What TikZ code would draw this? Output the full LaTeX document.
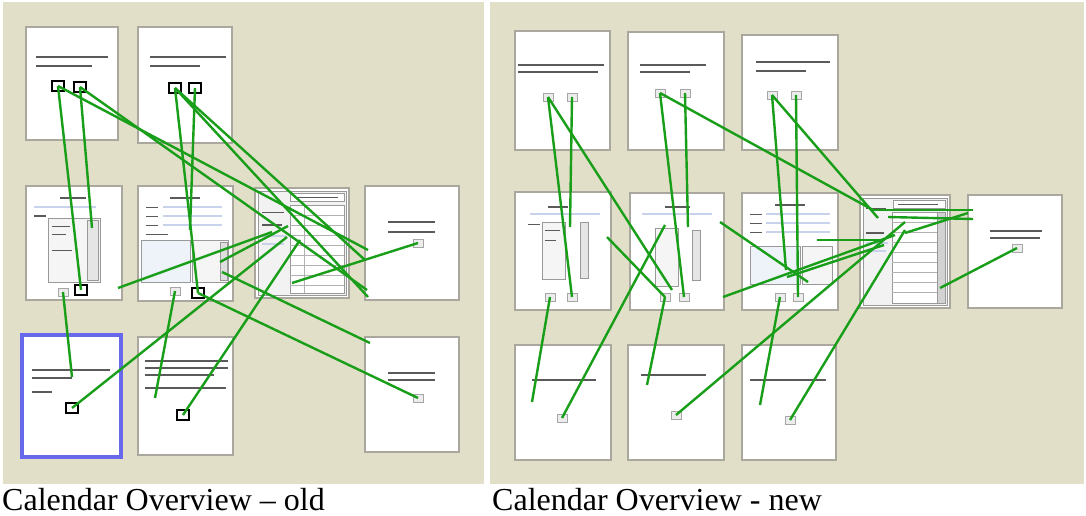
\documentclass[tikz,border=0pt]{standalone}
\usepackage{fontspec}
\setmainfont{Liberation Serif}
\definecolor{beige}{RGB}{226,223,200}
\definecolor{pgborder}{RGB}{170,168,158}
\definecolor{lgreen}{RGB}{24,158,24}
\definecolor{selblue}{RGB}{104,104,236}
\definecolor{txtgray}{RGB}{90,90,90}
\definecolor{fieldblue}{RGB}{200,210,235}
\newcommand\pg[6][]{\node[pg,#1,minimum width={#4-#2},minimum height={#5-#3}] (#6) at ({(#2+#4)/2},{(#3+#5)/2}) {};}
\begin{document}
\begin{tikzpicture}[x=1pt,y=-1pt,
  pg/.style={draw=pgborder,fill=white,line width=2.6pt,inner sep=0pt},
  sel/.style={draw=selblue,line width=4pt},
  btn/.style={draw=black,line width=2.2pt,minimum width=12pt,minimum height=10pt,inner sep=0pt},
  fbtn/.style={draw=gray!70,fill=gray!15,line width=0.8pt,minimum width=10pt,minimum height=8pt,inner sep=0pt},
  tx/.style={draw=txtgray,line width=1.3pt},
  ltx/.style={draw=fieldblue,line width=1.5pt},
  box/.style={draw=gray!80,line width=1pt},
  gl/.style={draw=lgreen,line width=2.4pt},
  captxt/.style={font=\fontsize{32}{32}\selectfont,anchor=base west,inner sep=0pt}]
\useasboundingbox (0,0) rectangle (1086,516);
\fill[white] (0,0) rectangle (1086,516);
% panels
\fill[beige] (3,2) rectangle (484,484);
\fill[beige] (490,2) rectangle (1084,484);
\node[captxt] (capold) at (2,510) {Calendar Overview – old};
\node[captxt] (capnew) at (492,510) {Calendar Overview - new};

% ---------------- OLD ----------------
\pg{26}{27}{118}{140}{p1}
\pg{138}{27}{232}{143}{p2}
\pg{26}{186}{122}{300}{p3}
\pg{138}{186}{233}{301}{p4}
\pg{255}{188}{349}{298}{p5}
\pg{365}{186}{459}{300}{p6}
\pg[sel]{22}{335}{121}{457}{p7}
\pg{138}{337}{233}{455}{p8}
\pg{365}{337}{459}{452}{p9}

% page contents (illegible text drawn as bars)
\draw[tx] (36,57) -- (108,57); \draw[tx] (36,66) -- (92,66);
\draw[tx] (150,57) -- (226,57); \draw[tx] (150,66) -- (200,66);
% p3
\draw[tx] (60,198) -- (86,198);
\draw[ltx] (34,207) -- (96,207); \draw[tx] (34,216) -- (46,216);
\draw[box,fill=gray!8] (48,218) rectangle (100,282);
\draw[box,fill=gray!20] (87,220) rectangle (98,280);
\draw[tx,line width=1pt] (52,226) -- (70,226); \draw[tx,line width=1pt] (52,234) -- (66,234);
\draw[tx,line width=1pt] (52,250) -- (72,250);
% p4
\draw[tx] (170,198) -- (200,198);
\foreach \yy in {207,216,225} {\draw[tx,line width=1pt] (146,\yy) -- (158,\yy); \draw[ltx] (163,\yy) -- (222,\yy);}
\draw[tx,line width=1pt] (146,234) -- (168,234);
\draw[box,fill=fieldblue!30] (141,240) rectangle (190,282);
\draw[box,fill=gray!8] (192,240) rectangle (228,282);
\draw[box,fill=gray!25] (220,242) rectangle (227,280);
% p5 calendar
\draw[box,fill=gray!10] (258,191) rectangle (346,295);
\draw[box,fill=white] (290,193) rectangle (344,201);
\draw[tx,line width=1pt] (296,197) -- (338,197);
\draw[box,fill=white] (290,205) rectangle (344,293);
\foreach \yy in {215,225,235,245,255,265,275,285} {\draw[gray!60,line width=0.8pt] (290,\yy) -- (344,\yy);}
\draw[gray!60,line width=0.8pt] (304,205) -- (304,293);
\draw[tx,line width=1pt] (262,212) -- (284,212); \draw[tx] (262,225) -- (282,225);
\draw[ltx] (262,236) -- (286,236); \draw[ltx] (262,244) -- (284,244);
% p6
\draw[tx] (388,222) -- (435,222); \draw[tx] (388,232) -- (435,232);
\node[fbtn] (b6) at (418,243) {};
% p7
\draw[tx] (32,370) -- (110,370); \draw[tx] (32,378) -- (72,378); \draw[tx] (32,392) -- (52,392);
% p8
\draw[tx] (145,361) -- (228,361); \draw[tx] (145,368) -- (228,368); \draw[tx] (145,375) -- (214,375);
\draw[tx] (145,388) -- (226,388);
% p9
\draw[tx] (388,373) -- (435,373); \draw[tx] (388,380) -- (435,380);
\node[fbtn] (b9) at (418,398) {};
\node[fbtn] (b3f) at (63,292) {};
\node[fbtn] (b4f) at (175,291) {};

% buttons
\node[btn] (bA1) at (58,86) {};
\node[btn] (bA2) at (80,87) {};
\node[btn] (bB1) at (175,88) {};
\node[btn] (bB2) at (195,88) {};
\node[btn] (bC) at (81,290) {};
\node[btn] (bD) at (198,293) {};
\node[btn] (bG) at (72,408) {};
\node[btn] (bH) at (183,415) {};

% old connectors
\coordinate (o1) at (368,250); \coordinate (o2) at (367,290);
\coordinate (o3) at (92,228);
\coordinate (o5) at (190,230); \coordinate (o6) at (365,260);
\coordinate (o7) at (368,297); \coordinate (o8s) at (118,288);
\coordinate (o8e) at (272,232); \coordinate (o9) at (287,237);
\coordinate (o10) at (72,377); \coordinate (o11) at (155,398);
\coordinate (o12) at (300,240); \coordinate (o13s) at (222,272);
\coordinate (o13e) at (370,343); \coordinate (o15) at (292,283);
\coordinate (o16s) at (220,262); \coordinate (o16e) at (288,226);
\draw[gl] (bA1.center) -- (o1);
\draw[gl] (bA2.center) -- (o2);
\draw[gl] (bA1.center) -- (bC.center);
\draw[gl] (bA2.center) -- (o3);
\draw[gl] (bB1.center) -- (bD.center);
\draw[gl] (bB2.center) -- (o5);
\draw[gl] (bB1.center) -- (o6);
\draw[gl] (bB1.center) -- (o7);
\draw[gl] (o8s) -- (o8e);
\draw[gl] (bG.center) -- (o9);
\draw[gl] (b3f.center) -- (o10);
\draw[gl] (b4f.center) -- (o11);
\draw[gl] (bH.center) -- (o12);
\draw[gl] (o13s) -- (o13e);
\draw[gl] (bD.center) -- (b9.center);
\draw[gl] (b6.center) -- (o15);
\draw[gl] (o16s) -- (o16e);

% ---------------- NEW ----------------
\pg{515}{31}{610}{150}{r1}
\pg{628}{32}{724}{150}{r2}
\pg{742}{35}{838}{150}{r3}
\pg{515}{192}{611}{310}{r4}
\pg{630}{193}{724}{310}{r5}
\pg{742}{193}{838}{310}{r6}
\pg{860}{195}{950}{308}{r7}
\pg{968}{195}{1062}{308}{r8}
\pg{515}{345}{611}{460}{r9}
\pg{628}{345}{724}{460}{r10}
\pg{742}{345}{836}{460}{r11}

\draw[tx] (518,65) -- (604,65); \draw[tx] (518,72) -- (598,72);
\draw[tx] (640,65) -- (706,65); \draw[tx] (640,72) -- (690,72);
\draw[tx] (756,62) -- (830,62); \draw[tx] (756,71) -- (806,71);
% r4
\draw[tx] (548,207) -- (568,207); \draw[ltx] (530,214) -- (600,214); \draw[tx,line width=1pt] (528,224) -- (540,224);
\draw[box,fill=gray!8] (542,222) rectangle (565,279);
\draw[box,fill=gray!20] (580,222) rectangle (588,278);
\draw[tx,line width=1pt] (545,230) -- (560,230); \draw[tx,line width=1pt] (545,240) -- (556,240);
% r5
\draw[tx] (665,207) -- (690,207); \draw[ltx] (642,214) -- (712,214);
\draw[box,fill=gray!8] (655,228) rectangle (678,286);
\draw[box,fill=gray!20] (692,230) rectangle (700,280);
% r6
\draw[tx] (775,205) -- (805,205);
\foreach \yy in {214,223,232} {\draw[tx,line width=1pt] (750,\yy) -- (762,\yy); \draw[ltx] (766,\yy) -- (830,\yy);}
\draw[box,fill=fieldblue!30] (750,246) rectangle (800,284);
\draw[box,fill=gray!8] (802,246) rectangle (832,284);
% r7 calendar
\draw[box,fill=gray!10] (863,198) rectangle (947,305);
\draw[box,fill=white] (893,200) rectangle (945,208);
\draw[tx,line width=1pt] (898,204) -- (938,204);
\draw[box,fill=white] (892,212) rectangle (945,303);
\foreach \yy in {222,232,242,252,262,272,282,292} {\draw[gray!60,line width=0.8pt] (892,\yy) -- (945,\yy);}
\draw[box,fill=gray!35] (937,212) rectangle (945,303);
\draw[tx,line width=1pt] (866,208) -- (886,208); \draw[tx] (866,233) -- (884,233);
\draw[ltx] (866,243) -- (888,243); \draw[ltx] (866,251) -- (886,251);
% r8
\draw[tx] (990,231) -- (1042,231); \draw[tx] (990,238) -- (1040,238);
% r9-r11
\draw[tx] (532,380) -- (596,380);
\draw[tx] (641,375) -- (706,375);
\draw[tx] (750,380) -- (826,380);

% faint buttons
\node[fbtn] (r1a) at (548,97) {}; \node[fbtn] (r1b) at (572,97) {};
\node[fbtn] (r2a) at (660,93) {}; \node[fbtn] (r2b) at (685,93) {};
\node[fbtn] (r3a) at (772,95) {}; \node[fbtn] (r3b) at (796,95) {};
\node[fbtn] (r4a) at (550,297) {}; \node[fbtn] (r4b) at (572,297) {};
\node[fbtn] (r5a) at (665,297) {}; \node[fbtn] (r5b) at (684,297) {};
\node[fbtn] (r6a) at (780,297) {}; \node[fbtn] (r6b) at (798,297) {};
\node[fbtn] (r8b) at (1017,248) {};
\node[fbtn] (r9b) at (562,418) {};
\node[fbtn] (r10b) at (676,415) {};
\node[fbtn] (r11b) at (790,420) {};

% new connectors
\coordinate (n2) at (570,227); \coordinate (n3) at (672,290);
\coordinate (n4) at (665,225); \coordinate (n5) at (532,402);
\coordinate (n6) at (647,385); \coordinate (n7) at (905,222);
\coordinate (n9) at (688,227); \coordinate (n10) at (873,210);
\coordinate (n11) at (878,218); \coordinate (n13) at (786,270);
\coordinate (h1) at (870,210); \coordinate (h1e) at (973,210);
\coordinate (h2) at (888,217); \coordinate (h2e) at (973,219);
\coordinate (h3) at (905,233); \coordinate (h3e) at (968,213);
\coordinate (n15) at (940,288); \coordinate (n16) at (905,230);
\coordinate (n17) at (760,405); \coordinate (n18) at (607,237);
\coordinate (n19s) at (720,222); \coordinate (n19e) at (808,282);
\coordinate (n20s) at (723,297); \coordinate (n20e) at (895,235);
\coordinate (n22s) at (817,240); \coordinate (n22e) at (882,240);
\coordinate (n21s) at (787,277); \coordinate (n21e) at (884,245);
\draw[gl] (r1a.center) -- (r4b.center);
\draw[gl] (r1b.center) -- (n2);
\draw[gl] (r1a.center) -- (n3);
\draw[gl] (r9b.center) -- (n4);
\draw[gl] (r4a.center) -- (n5);
\draw[gl] (r5a.center) -- (n6);
\draw[gl] (r10b.center) -- (n7);
\draw[gl] (r2a.center) -- (r5b.center);
\draw[gl] (r2b.center) -- (n9);
\draw[gl] (r2a.center) -- (n10);
\draw[gl] (r3a.center) -- (n11);
\draw[gl] (r3b.center) -- (r6b.center);
\draw[gl] (r3a.center) -- (n13);
\draw[gl] (h1) -- (h1e);
\draw[gl] (h2) -- (h2e);
\draw[gl] (h3) -- (h3e);
\draw[gl] (r8b.center) -- (n15);
\draw[gl] (r11b.center) -- (n16);
\draw[gl] (r6a.center) -- (n17);
\draw[gl] (n18) -- (r5a.center);
\draw[gl] (n19s) -- (n19e);
\draw[gl] (n20s) -- (n20e);
\draw[gl] (n22s) -- (n22e);
\draw[gl] (n21s) -- (n21e);
\end{tikzpicture}
\end{document}
